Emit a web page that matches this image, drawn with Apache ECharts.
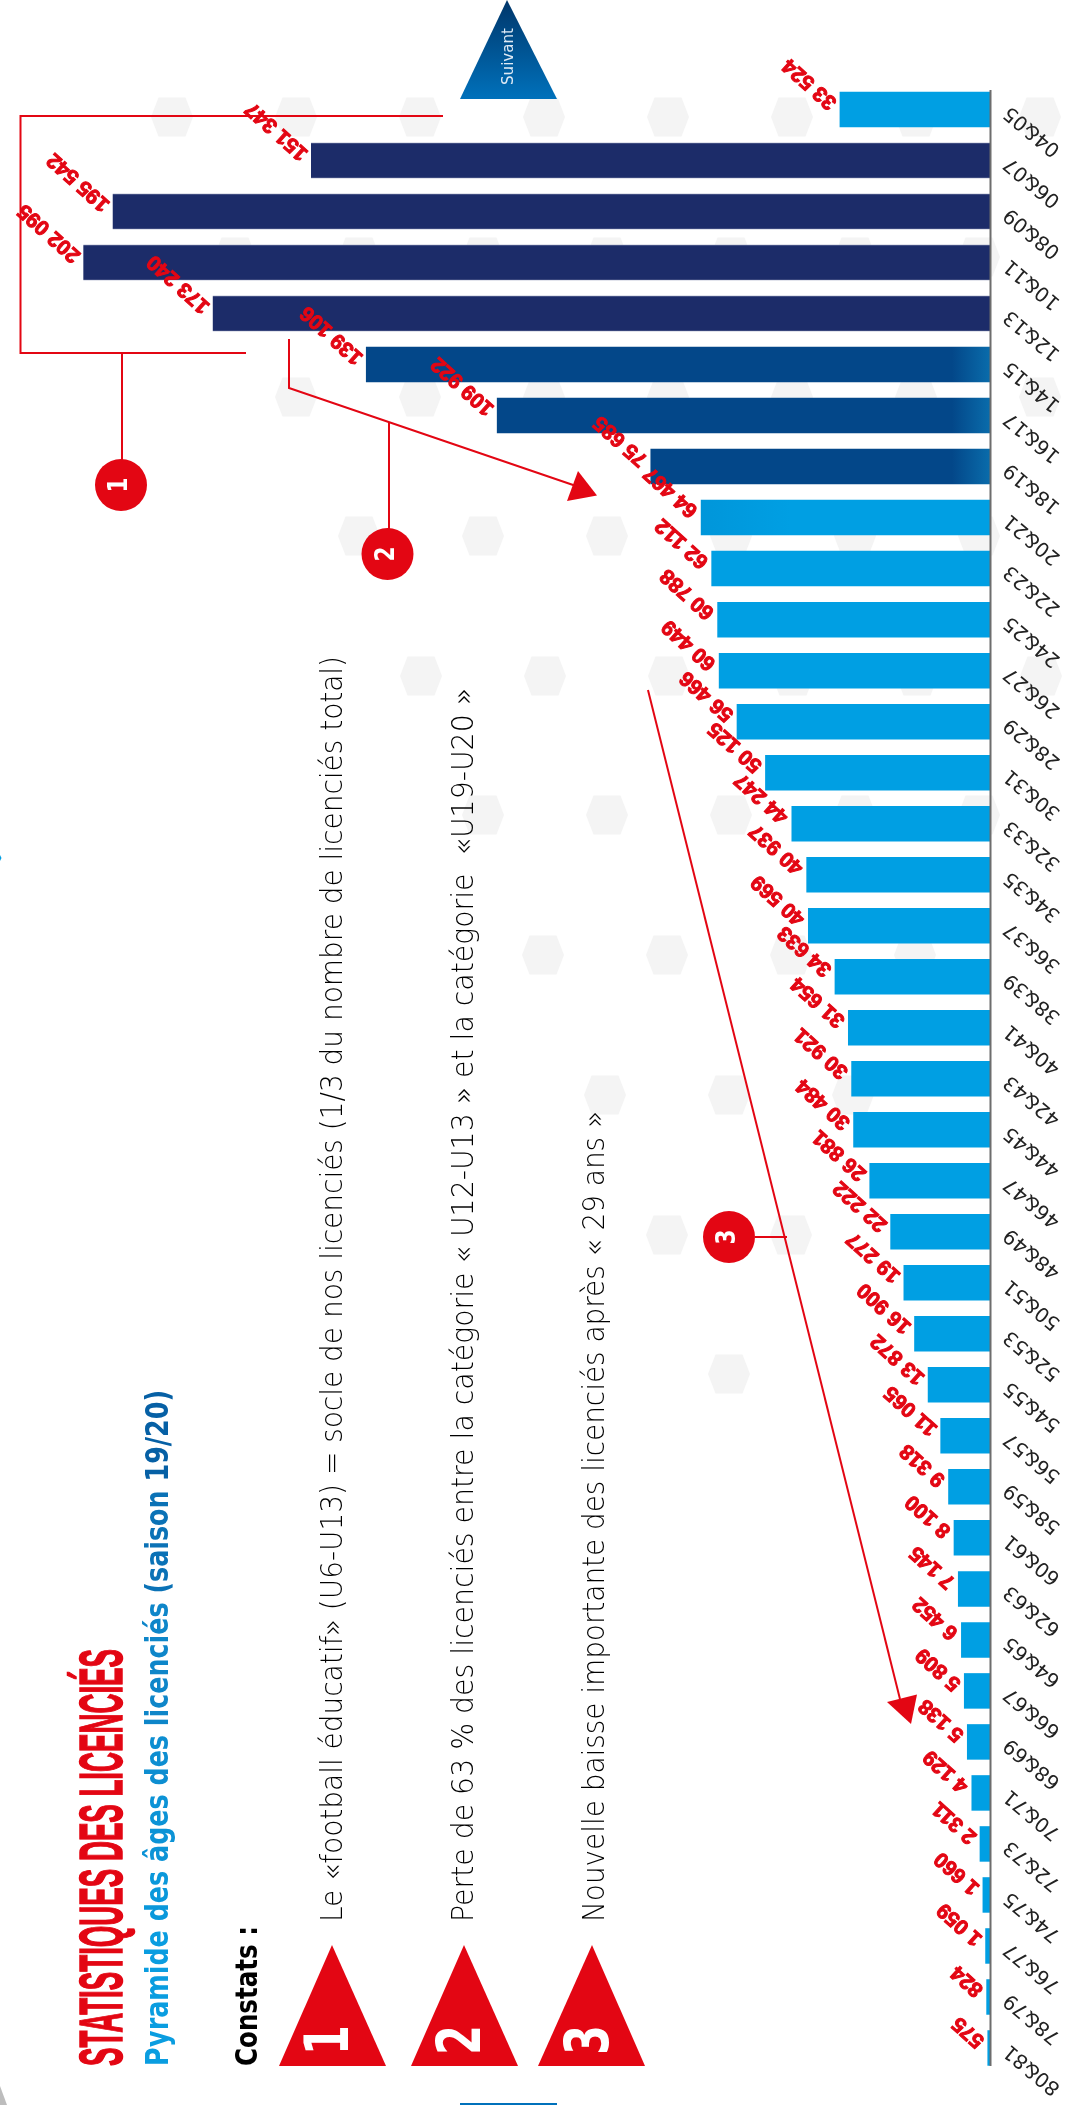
<!DOCTYPE html>
<html>
<head>
<meta charset="utf-8">
<style>html,body{margin:0;padding:0;background:#fff}#c{width:1067px;height:2105px}</style>
<script src="https://cdn.jsdelivr.net/npm/echarts@6/dist/echarts.min.js"></script>
</head>
<body>
<div id="c"></div>
<script>
const ages = ['04&05','06&07','08&09','10&11','12&13','14&15','16&17','18&19','20&21','22&23','24&25','26&27','28&29','30&31','32&33','34&35','36&37','38&39','40&41','42&43','44&45','46&47','48&49','50&51','52&53','54&55','56&57','58&59','60&61','62&63','64&65','66&67','68&69','70&71','72&73','74&75','76&77','78&79','80&81'];
const licencies = [33524,151347,195542,202095,173240,139106,109922,75685,64467,62112,60788,60449,56466,50125,44247,40937,40569,34633,31654,30921,30484,26881,22222,19277,16900,13872,11065,9318,8100,7145,6452,5809,5138,4129,2311,1660,1059,824,575];
const titleText = 'STATISTIQUES DES LICENCIÉS';
const subtitleWords = ['Pyramide','des','âges','des','licenciés','(saison','19/20)'];
const constatsTitle = 'Constats :';
const constats = [
  'Le «football éducatif» (U6-U13) = socle de nos licenciés (1/3 du nombre de licenciés total)',
  'Perte de 63 % des licenciés entre la catégorie « U12-U13 » et la catégorie  «U19-U20 »',
  'Nouvelle baisse importante des licenciés après « 29 ans »'
];
const nextLabel = 'Suivant';

const RED = '#e30613', LIGHT = '#009fe3', NAVY = '#1c2c69', MID = '#034789';
const BODY = '"DejaVu Sans", "Liberation Sans", sans-serif';
const NARROW = '"Liberation Sans Narrow", "Liberation Sans", sans-serif';

const ctx = document.createElement('canvas').getContext('2d');
function fit(text, x, y0, y1, size, family, weight, fill, extra) {
  ctx.font = weight + ' ' + size + 'px ' + family;
  const w = ctx.measureText(text).width;
  const el = {
    type: 'text', x: x, y: y0, rotation: Math.PI / 2, scaleX: (y0 - y1) / w, z: 20,
    style: { text: text, fontSize: size, fontFamily: family, fontWeight: weight, fill: fill, align: 'left', verticalAlign: 'middle' }
  };
  if (extra) Object.assign(el.style, extra);
  return el;
}
function centered(text, x, y, size, scale, fill) {
  return {
    type: 'text', x: x, y: y, rotation: Math.PI / 2, scaleX: scale, z: 21,
    style: { text: text, fontSize: size, fontFamily: BODY, fontWeight: 'bold', fill: fill, align: 'center', verticalAlign: 'middle' }
  };
}
function poly(points, fill, z) { return { type: 'polygon', shape: { points: points }, style: { fill: fill }, z: z == null ? 20 : z }; }
function line(points) { return { type: 'polyline', shape: { points: points }, style: { stroke: RED, lineWidth: 2, fill: null }, z: 20 }; }
function disc(cx, cy, digit) {
  return [
    { type: 'circle', shape: { cx: cx, cy: cy, r: 26 }, style: { fill: RED }, z: 20 },
    centered(digit, cx - 1, cy, 27, 0.8, '#fff')
  ];
}

// decorative hexagons of the slide background
const hexRows = [
  [117, 172, 8], [257, 235, 7], [397, 296, 7], [536, 359, 6], [676, 421, 6],
  [815, 483, 5], [955, 543, 4], [1095, 605, 3], [1235, 667, 2], [1374, 729, 1]
];
const hexes = [];
hexRows.forEach(function (r) {
  for (let i = 0; i < r[2]; i++) {
    const x = r[1] + i * 124, y = r[0];
    hexes.push(poly([[x - 21, y], [x - 13.5, y - 19.5], [x + 13.5, y - 19.5], [x + 21, y], [x + 13.5, y + 19.5], [x - 13.5, y + 19.5]], '#f4f4f4', -10));
  }
});

function barColor(i) {
  if (i >= 1 && i <= 4) {
    return { type: 'linear', x: 0, y: 0, x2: 0, y2: 1, colorStops: [
      { offset: 0, color: '#8d94b5' }, { offset: 0.03, color: NAVY }, { offset: 0.97, color: NAVY }, { offset: 1, color: '#8d94b5' }] };
  }
  if (i >= 5 && i <= 7) {
    return { type: 'linear', global: true, x: 952, y: 0, x2: 990, y2: 0, colorStops: [
      { offset: 0, color: MID }, { offset: 1, color: '#0a6cab' }] };
  }
  if (i === 8) {
    return { type: 'linear', global: true, x: 701, y: 0, x2: 790, y2: 0, colorStops: [
      { offset: 0, color: '#0096da' }, { offset: 1, color: LIGHT }] };
  }
  return LIGHT;
}

const subtitleColors = ['#0a9de0', '#0a98db', '#0c93d6', '#0d8ed1', '#0e86c9', '#0b72b6', '#0660a5'];
const subtitleRich = {};
subtitleColors.forEach(function (c, i) { subtitleRich['w' + i] = { color: c, fill: c, fontSize: 32, fontFamily: BODY, fontWeight: 'bold' }; });
const subtitlePlain = subtitleWords.join(' ');
ctx.font = 'bold 32px ' + BODY;
const subtitleWidth = ctx.measureText(subtitlePlain).width;

const annotations = [
  // Next-page triangles
  poly([[507, 0], [557, 99], [460, 99]], { type: 'linear', x: 0, y: 0, x2: 0, y2: 1, colorStops: [{ offset: 0, color: '#00366a' }, { offset: 1, color: '#0071bb' }] }),
  fit(nextLabel, 509, 85, 28, 15, BODY, 'normal', '#dfeaf5'),
  poly([[460, 2103], [557, 2103], [557, 2105], [460, 2105]], '#0071bb'),
  // corners of the page
  poly([[0, 2086], [7, 2105], [0, 2105]], '#bdbdbd'),
  poly([[0, 855], [1.5, 858], [0, 861]], LIGHT),
  // Title block
  fit(titleText, 105, 2066, 1649, 61, NARROW, 'bold', RED, { stroke: RED, lineWidth: 1.5 }),
  {
    type: 'text', x: 160, y: 2066, rotation: Math.PI / 2, scaleX: (2066 - 1390) / subtitleWidth, z: 20,
    style: {
      text: subtitleWords.map(function (w, i) { return '{w' + i + '|' + w + '}'; }).join('{w0| }'),
      rich: subtitleRich, align: 'left', verticalAlign: 'middle'
    }
  },
  fit(constatsTitle, 249, 2066, 1926, 30, BODY, 'bold', '#000'),
  fit(constats[0], 334, 1922, 656, 30, BODY, '200', '#000'),
  fit(constats[1], 465, 1922, 688, 30, BODY, '200', '#000'),
  fit(constats[2], 596, 1922, 1111, 30, BODY, '200', '#000'),
  // Numbered triangles
  poly([[332, 1945], [386, 2066], [279, 2066]], RED),
  poly([[464, 1945], [518, 2066], [411, 2066]], RED),
  poly([[592, 1945], [645, 2066], [538, 2066]], RED),
  centered('1', 332, 2040, 60, 0.72, '#fff'),
  centered('2', 464, 2040, 60, 0.72, '#fff'),
  centered('3', 592, 2040, 60, 0.72, '#fff'),
  // Callout 1
  line([[443, 116], [20.5, 116], [20.5, 353], [246, 353]]),
  line([[122, 353], [122, 460]]),
  // Callout 2
  line([[289, 339], [289, 388], [579, 487]]),
  poly([[578, 471], [597, 495.5], [567, 501]], RED),
  line([[389, 422], [389, 530]]),
  // Callout 3
  line([[648, 690], [900, 1699]]),
  poly([[917, 1694.5], [887, 1702], [911, 1724]], RED),
  line([[755, 1237], [787, 1237]]),
  // zero line of the pyramid
  { type: 'line', shape: { x1: 990.5, y1: 90, x2: 990.5, y2: 2066 }, style: { stroke: '#6d6d6d', lineWidth: 2 }, z: 19 }
].concat(disc(121, 485, '1'), disc(387.5, 554, '2'), disc(729, 1237, '3'));

const chart = echarts.init(document.getElementById('c'), null, { renderer: 'canvas' });
chart.setOption({
  animation: false,
  backgroundColor: '#fff',
  grid: { left: 3, width: 987, top: 84, height: 1989.5, containLabel: false },
  xAxis: { type: 'value', inverse: true, min: 0, max: 220000, show: false },
  yAxis: {
    type: 'category', inverse: true, position: 'right', data: ages,
    axisLine: { show: false, onZero: false }, axisTick: { show: false },
    axisLabel: { rotate: 140, align: 'right', verticalAlign: 'middle', margin: 17, fontSize: 20, fontFamily: BODY, fontWeight: 'normal', color: '#222', interval: 0, hideOverlap: false }
  },
  series: [{
    type: 'bar', barWidth: 35.5,
    data: licencies.map(function (v, i) { return { value: v, itemStyle: { color: barColor(i) } }; }),
    label: {
      show: true, position: 'left', distance: 7, rotate: 138, align: 'left', verticalAlign: 'middle', offset: [2, 4],
      fontFamily: NARROW, fontWeight: 'bold', fontSize: 21, color: RED, textBorderColor: RED, textBorderWidth: 1,
      formatter: function (p) { return String(p.value).replace(/\B(?=(\d{3})+$)/g, ' '); }
    }
  }],
  graphic: { elements: hexes.concat(annotations) }
});
</script>
</body>
</html>
